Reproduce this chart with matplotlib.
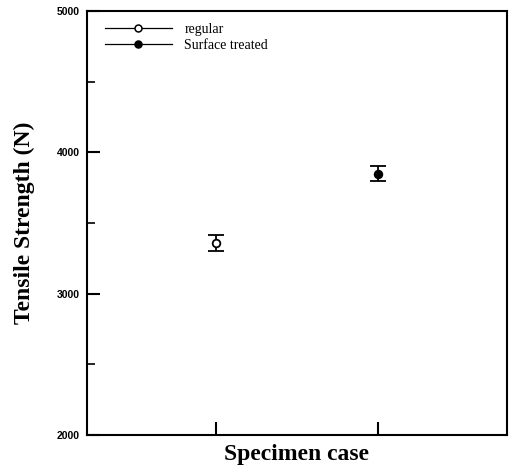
import matplotlib
matplotlib.use("Agg")
import matplotlib.pyplot as plt
from matplotlib.lines import Line2D
from matplotlib.ticker import MultipleLocator, FixedLocator

series = ["regular", "Surface treated"]
x_pos = [1, 2]
strength = [3360, 3850]
err = [57, 50]
filled = [False, True]

yticks = [2000, 3000, 4000, 5000]

fig = plt.figure(figsize=(5.10, 4.67), dpi=100)
ax = fig.add_axes([87/510, 1-435/467, (507-87)/510, (435-11)/467])

for xp, v, e, f in zip(x_pos, strength, err, filled):
    ax.errorbar([xp], [v], yerr=[e], fmt='o', color='black',
                mfc='black' if f else 'white', mec='black', mew=1.3,
                ms=5.5, capsize=5.5, capthick=1.3, elinewidth=1.3)

ax.set_xlim(0.2, 2.8)
ax.set_ylim(2000, 5000)
ax.xaxis.set_major_locator(FixedLocator(x_pos))
ax.set_xticklabels([])
ax.yaxis.set_major_locator(FixedLocator(yticks))
ax.yaxis.set_minor_locator(MultipleLocator(500))
ax.set_yticklabels([str(t) for t in yticks], fontfamily='Liberation Sans',
                   fontweight='bold', fontsize=7.5)
ax.tick_params(axis='both', which='major', direction='in', length=9.5, width=1.5)
ax.tick_params(axis='y', which='major', pad=5)
ax.tick_params(axis='y', which='minor', direction='in', length=6, width=1.2)
ax.tick_params(top=False, right=False)
for s in ax.spines.values():
    s.set_linewidth(1.5)

ax.set_xlabel("Specimen case", fontfamily='Liberation Serif', fontweight='bold',
              fontsize=17, labelpad=3)
ax.set_ylabel("Tensile Strength (N)", fontfamily='Liberation Serif', fontweight='bold',
              fontsize=17, labelpad=16)

handles = [Line2D([0], [0], color='black', lw=0.9, marker='o', ms=5,
                  mfc='black' if f else 'white', mec='black', mew=1.1)
           for f in filled]
ax.legend(handles, series, loc='upper left', frameon=False,
          prop={'family': 'Liberation Serif', 'size': 10},
          handlelength=4.8, handletextpad=0.9, labelspacing=0.25,
          bbox_to_anchor=(0.02, 0.995), borderaxespad=0.3)

fig.savefig("out.png", dpi=100)
